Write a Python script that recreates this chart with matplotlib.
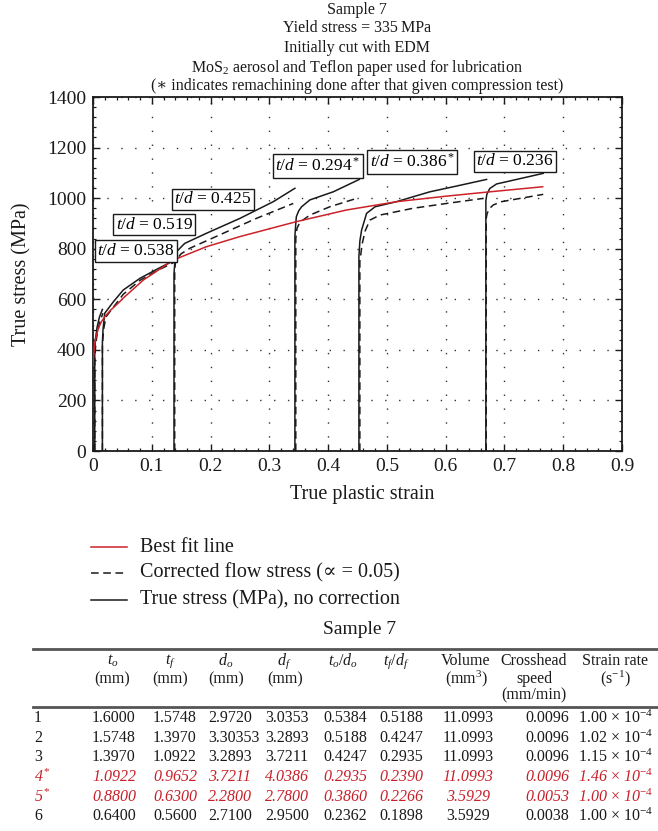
import matplotlib
matplotlib.use("Agg")
import matplotlib.pyplot as plt
from matplotlib.lines import Line2D
from matplotlib.ticker import MultipleLocator, FuncFormatter

plt.rcParams['font.family'] = ['Liberation Serif', 'DejaVu Serif']
plt.rcParams['mathtext.fontset'] = 'custom'
plt.rcParams['mathtext.rm'] = 'Liberation Serif'
plt.rcParams['mathtext.it'] = 'Liberation Serif:italic'
plt.rcParams['mathtext.bf'] = 'Liberation Serif:bold'

# ---------------- data ----------------
# best fit flow curve (true plastic strain, MPa)
fit_strain = [0, 0.001, 0.003, 0.006, 0.010, 0.014, 0.020, 0.030, 0.043, 0.0516,
              0.0856, 0.1366, 0.193, 0.25, 0.346, 0.431, 0.5165, 0.6015, 0.675, 0.765]
fit_stress = [335, 380, 425, 460, 490, 510, 531, 557, 585, 605,
              676, 755, 808, 848, 907, 953, 986, 1008, 1025, 1045]

# uncorrected true stress for each compression step
true_strain = [
    [0.003, 0.003, 0.004, 0.007, 0.011, 0.016],
    [0.016, 0.016, 0.017, 0.020, 0.0346, 0.0516, 0.080, 0.108, 0.134, 0.137],
    [0.1378, 0.1378, 0.139, 0.142, 0.156, 0.193, 0.25, 0.3067, 0.3435],
    [0.3435, 0.3435, 0.345, 0.346, 0.350, 0.355, 0.369, 0.4087, 0.453],
    [0.4524, 0.4524, 0.454, 0.457, 0.4655, 0.48, 0.5165, 0.573, 0.613, 0.6696],
    [0.6684, 0.6684, 0.670, 0.675, 0.6865, 0.7036, 0.766],
]
true_stress = [
    [0, 380, 440, 490, 530, 560],
    [0, 430, 480, 545, 590, 637, 683, 718, 749, 755],
    [0, 700, 740, 788, 821, 861, 920, 986, 1039],
    [0, 850, 900, 927, 950, 966, 993, 1025, 1074],
    [0, 768, 830, 874, 940, 966, 986, 1025, 1045, 1074],
    [0, 990, 1015, 1038, 1056, 1065, 1098],
]

# corrected flow stress (alpha = 0.05)
corr_strain = [
    [0.003, 0.003, 0.005, 0.008, 0.012, 0.017],
    [0.016, 0.016, 0.018, 0.022, 0.035, 0.0516, 0.080, 0.108, 0.137],
    [0.139, 0.139, 0.141, 0.150, 0.165, 0.2216, 0.278, 0.3407],
    [0.345, 0.345, 0.347, 0.352, 0.369, 0.403, 0.4485],
    [0.454, 0.454, 0.458, 0.463, 0.471, 0.488, 0.5447, 0.6015, 0.6638],
    [0.669, 0.669, 0.6706, 0.675, 0.681, 0.695, 0.766],
]
corr_stress = [
    [0, 370, 430, 475, 515, 545],
    [0, 420, 480, 530, 570, 620, 675, 712, 745],
    [0, 720, 755, 780, 802, 861, 920, 979],
    [0, 840, 880, 905, 933, 966, 999],
    [0, 750, 820, 870, 913, 933, 960, 979, 999],
    [0, 920, 940, 960, 973, 986, 1015],
]

td_ratio = ["0.538", "0.519", "0.425", "0.294", "0.386", "0.236"]
remachined = [False, False, False, True, True, False]

x_ticks = [0, 0.1, 0.2, 0.3, 0.4, 0.5, 0.6, 0.7, 0.8, 0.9]
y_ticks = [0, 200, 400, 600, 800, 1000, 1200, 1400]

# table contents
tbl_test = ["1", "2", "3", "4$^*$", "5$^*$", "6"]
tbl_t0 = ["1.6000", "1.5748", "1.3970", "1.0922", "0.8800", "0.6400"]
tbl_tf = ["1.5748", "1.3970", "1.0922", "0.9652", "0.6300", "0.5600"]
tbl_d0 = ["2.9720", "3.30353", "3.2893", "3.7211", "2.2800", "2.7100"]
tbl_df = ["3.0353", "3.2893", "3.7211", "4.0386", "2.7800", "2.9500"]
tbl_t0d0 = ["0.5384", "0.5188", "0.4247", "0.2935", "0.3860", "0.2362"]
tbl_tfdf = ["0.5188", "0.4247", "0.2935", "0.2390", "0.2266", "0.1898"]
tbl_volume = ["11.0993", "11.0993", "11.0993", "11.0993", "3.5929", "3.5929"]
tbl_speed = ["0.0096", "0.0096", "0.0096", "0.0096", "0.0053", "0.0038"]
tbl_rate = ["1.00", "1.02", "1.15", "1.46", "1.00", "1.00"]

# ---------------- figure ----------------
W, H = 658, 831
fig = plt.figure(figsize=(W / 100, H / 100), dpi=100)


def fx(px):
    return px / W


def fy(py):
    return 1 - py / H


ax_l, ax_r, ax_t, ax_b = 93, 622, 97, 451
ax = fig.add_axes([fx(ax_l), fy(ax_b), (ax_r - ax_l) / W, (ax_b - ax_t) / H])

RED = "#cc2229"
INK = "#1a1a1a"

for xs, ys in zip(corr_strain, corr_stress):
    ax.plot(xs, ys, color=INK, lw=1.1, linestyle=(0, (5, 3)), zorder=3)
for xs, ys in zip(true_strain, true_stress):
    ax.plot(xs, ys, color=INK, lw=1.1, zorder=4)
ax.plot(fit_strain, fit_stress, color=RED, lw=1.1, zorder=5)

# t/d annotation boxes
label_pos = [(0.073, 791), (0.104, 895), (0.204, 996),
             (0.383, 1127), (0.543, 1143), (0.718, 1146)]
for ratio, star, (lx, ly) in zip(td_ratio, remachined, label_pos):
    txt = r"$t/d$ = " + ratio + (r"$^*$" if star else "")
    ax.text(lx, ly, txt, fontsize=12.5, ha="center", va="center", zorder=6,
            bbox=dict(boxstyle="square,pad=0.15", fc="white", ec=INK, lw=1.0))

ax.set_xlim(0, 0.9)
ax.set_ylim(0, 1400)
ax.set_xticks(x_ticks)
ax.set_yticks(y_ticks)
ax.xaxis.set_minor_locator(MultipleLocator(0.02))
ax.yaxis.set_minor_locator(MultipleLocator(40))
ax.xaxis.set_major_formatter(FuncFormatter(lambda v, p: "0" if v == 0 else f"{v:g}"))
ax.tick_params(which="both", direction="in", top=True, right=True,
               labelsize=14, colors=INK)
ax.tick_params(which="major", length=5, width=1.0, pad=5)
ax.tick_params(which="minor", length=2.5, width=0.9)
ax.grid(True, which="major", color="#333333", linestyle=(0, (1, 9)), lw=1.0)
for sp in ax.spines.values():
    sp.set_linewidth(1.3)
    sp.set_color(INK)

fig.text(fx(362), fy(494), "True plastic strain", fontsize=14.5,
         ha="center", va="center", color=INK)
fig.text(fx(22), fy(274), "True stress (MPa)", fontsize=14.5, rotation=90,
         ha="center", va="center", color=INK)

# heading
cx = fx(357)
heading = [
    (10, "Sample 7"),
    (28, "Yield stress = 335\u2009MPa"),
    (48, "Initially cut with EDM"),
    (68, "MoS$_2$ aerosol and Teflon paper used for lubrication"),
    (86, "(\u2217 indicates remachining done after that given compression test)"),
]
for py, s in heading:
    fig.text(cx, fy(py), s, fontsize=11.5, ha="center", va="center", color=INK)

# key
key = [
    (547, dict(color=RED, lw=1.1, linestyle="-"), "Best fit line"),
    (573, dict(color=INK, lw=1.1, linestyle=(0, (5, 3))),
     "Corrected flow stress (\u221d = 0.05)"),
    (600, dict(color=INK, lw=1.1, linestyle="-"), "True stress (MPa), no correction"),
]
for py, style, s in key:
    fig.add_artist(Line2D([fx(91), fx(127)], [fy(py), fy(py)], **style))
    fig.text(fx(140), fy(py), s, fontsize=14.5, ha="left", va="center", color=INK)

# table
fig.text(fx(360), fy(630), "Sample 7", fontsize=14, ha="center", va="center", color=INK)
for py in (649, 707):
    fig.add_artist(Line2D([fx(33), fx(658)], [fy(py), fy(py)],
                          color="#555555", lw=2.0))

TF = 11.5
head1 = [(113, "$t_o$"), (170, "$t_f$"), (226, "$d_o$"), (284, "$d_f$"),
         (343, "$t_o/d_o$"), (396, "$t_f/d_f$"), (466, "Volume"),
         (534, "Crosshead"), (615, "Strain rate")]
head2 = [(112, "(mm)"), (170, "(mm)"), (226, "(mm)"), (285, "(mm)"),
         (466, "(mm$^3$)"), (534, "speed"), (615, "(s$^{-1}$)")]
head3 = [(534, "(mm/min)")]
for row_y, cells in ((661, head1), (679, head2), (695, head3)):
    for px, s in cells:
        fig.text(fx(px), fy(row_y), s, fontsize=TF, ha="center", va="center", color=INK)

row_y = [718, 738, 757, 777, 797, 816]
columns = [(34, "left", tbl_test), (92, "left", tbl_t0), (153, "left", tbl_tf),
           (208, "left", tbl_d0), (265, "left", tbl_df), (323, "left", tbl_t0d0),
           (379, "left", tbl_tfdf), (468, "center", tbl_volume),
           (525, "left", tbl_speed)]
RED_ROW = "#c8202a"
for i, py in enumerate(row_y):
    is_red = "*" in tbl_test[i]
    col = RED_ROW if is_red else INK
    style = "italic" if is_red else "normal"
    for px, ha, vals in columns:
        fig.text(fx(px), fy(py), vals[i], fontsize=TF, ha=ha, va="center",
                 color=col, fontstyle=style)
    rate = tbl_rate[i] + r" $\times$ 10$^{-4}$"
    fig.text(fx(578), fy(py), rate, fontsize=TF, ha="left", va="center",
             color=col, fontstyle=style)

fig.savefig("out.png", dpi=100)
